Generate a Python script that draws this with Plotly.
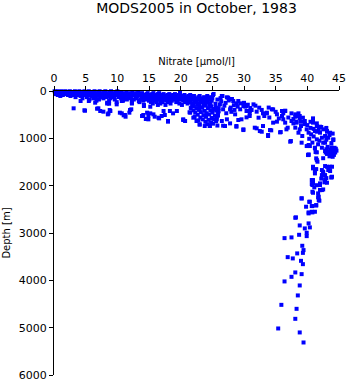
import plotly.graph_objects as go

# Nitrate [umol/l] and depth [m] samples, grouped by water-column layer
surface_nitrate = [
    0.1, 0.6, 1.2, 1.8, 2.5, 3.3, 4.0, 4.8, 5.5, 6.4, 7.2, 8.1, 9.0, 10.0,
    0.2, 0.9, 1.5, 2.2, 3.0, 3.8, 4.6, 5.3, 6.1, 7.0, 7.9, 8.8, 9.7, 10.6, 11.5, 12.4, 13.3,
    0.4, 1.1, 1.9, 2.7, 3.5, 4.3, 5.1, 6.0, 6.8, 7.6, 8.5, 9.4, 10.3, 11.2, 12.1, 13.0, 13.9, 14.8, 15.7, 16.6,
    0.3, 1.0, 1.7, 2.4, 3.3, 4.1, 5.0, 5.8, 6.6, 7.5, 8.4, 9.3, 10.1, 11.0, 11.9, 12.8, 13.7, 14.6, 15.5, 16.4, 17.3, 18.2, 19.1, 19.9,
    0.6, 1.4, 2.2, 3.0, 3.9, 4.7, 5.5, 6.3, 7.2, 8.0, 8.9, 9.8, 10.7, 11.6, 12.5, 13.4, 14.3, 15.2, 16.1, 17.0, 17.9, 18.8, 19.7, 20.6, 21.5,
    1.0, 2.6, 4.2, 5.9, 6.9, 7.7, 8.6, 9.5, 10.4, 11.3, 12.2, 13.1, 14.0, 14.9, 15.8, 16.7, 17.6, 18.5, 19.4, 20.3, 21.2, 22.1, 23.0, 24.2,
    3.4, 5.2, 6.5, 7.4, 8.3, 9.2, 10.2, 11.1, 12.0, 12.9, 13.8, 14.7, 15.6, 16.5, 17.4, 18.3, 19.2, 20.1, 21.0, 21.9, 22.8, 23.7, 24.6,
    4.5, 6.2, 7.8, 8.9, 10.6, 11.8, 13.0, 14.2, 15.1, 16.0, 16.9, 17.8, 18.7, 19.6, 20.5, 21.4, 22.3, 23.2, 24.1, 25.0,
    5.6, 7.1, 9.6, 11.5, 12.6, 13.6, 14.5, 15.4, 16.3, 17.2, 18.1, 19.0, 19.9, 20.8, 21.7, 22.6, 23.5, 24.4,
    6.7, 8.7, 10.9, 12.3, 14.1, 15.0, 15.9, 16.8, 17.7, 18.6, 19.5, 20.4, 21.3, 22.2, 23.1, 24.0, 24.9,
    9.9, 13.5, 15.3, 16.2, 17.1, 18.0, 19.3, 20.7, 21.6, 22.5, 23.4, 24.3,
    8.4, 12.3, 15.6, 16.8, 18.4, 19.8, 21.1, 22.0, 22.9, 23.8, 24.7,
    14.2, 16.4, 17.6, 20.2, 21.8, 22.7, 23.6, 24.5,
]
surface_depth = (
    [5] * 14 + [25] * 17 + [45] * 20 + [65] * 24 + [85] * 25 + [105] * 24
    + [130] * 23 + [155] * 20 + [180] * 18 + [205] * 17 + [235] * 12
    + [265] * 11 + [295] * 8
)

subsurface_nitrate = [
    22.1, 23.0, 23.9, 24.8, 25.5, 21.6, 22.5, 23.4, 24.3, 25.2, 26.0,
    22.0, 22.9, 23.8, 24.7, 25.6, 21.4, 22.3, 23.2, 24.1, 25.0, 25.9,
    22.7, 23.6, 24.5, 25.4, 22.2, 23.1, 24.0, 24.9, 25.7, 23.5, 24.4, 25.3, 22.8,
    23.9, 24.8, 25.6, 24.2, 25.1, 23.0, 24.6, 25.8,
    15.7, 16.5, 17.0, 18.0, 17.3, 18.3, 19.4, 20.4, 20.7, 22.5, 23.0, 23.8, 24.6, 21.5, 22.0,
    14.1, 14.5, 15.2, 15.9, 16.6, 18.0, 17.5, 18.8, 20.4, 15.2, 14.2, 14.9, 14.9, 14.7,
    3.1, 4.8, 6.8, 7.3, 7.8, 8.7, 8.9, 8.5, 10.4, 11.0, 11.3, 12.2, 11.9, 13.9, 12.3,
    9.9, 8.4, 6.5, 5.5, 4.2, 10.7, 13.4, 4.9, 7.0, 8.6, 8.8, 10.7, 11.2, 12.0,
    19.9, 25.2, 25.1, 26.6, 27.3, 28.1, 28.8, 29.4, 30.2, 26.5, 27.5, 28.3, 29.1, 29.9,
    30.4, 29.4, 28.6, 29.6, 29.9, 28.8, 27.0, 27.3, 26.5, 27.8, 26.7, 26.2, 25.7,
    28.8, 27.8, 26.7, 29.1, 30.4, 29.9,
    25.8, 26.4, 27.1, 25.5, 26.9, 27.6, 28.4, 26.0, 27.2, 28.0, 25.9, 26.3, 27.9,
    29.0, 28.5, 30.0, 30.6,
]
subsurface_depth = [
    320, 330, 310, 325, 340, 360, 370, 355, 365, 380, 360,
    410, 400, 420, 405, 415, 450, 460, 445, 470, 455, 470,
    500, 510, 495, 520, 550, 560, 545, 570, 555, 600, 610, 595, 620,
    650, 660, 640, 700, 690, 710, 740, 730,
    493, 564, 528, 634, 423, 423, 423, 598, 634, 634, 704, 740, 740, 458, 564,
    507, 592, 472, 543, 578, 648, 507, 472, 613, 332, 317, 528, 599, 458,
    366, 408, 374, 423, 437, 268, 423, 493, 458, 514, 543, 387, 458, 528, 247,
    282, 247, 247, 211, 211, 211, 211, 416, 366, 472, 402, 472, 507, 402,
    35, 63, 85, 106, 134, 169, 261, 261, 331, 106, 141, 211, 211, 317,
    423, 387, 493, 598, 810, 740, 740, 598, 634, 387, 387, 282, 598,
    754, 684, 733, 613, 557, 825,
    180, 220, 250, 270, 310, 200, 300, 430, 470, 440, 520, 150, 350,
    330, 400, 250, 290,
]

nutricline_nitrate = [
    31.5, 30.4, 30.9, 30.9, 32.4, 32.3, 33.6, 33.2, 34.4, 35.2, 34.6, 36.0, 36.5,
    36.0, 36.2, 36.5, 31.7, 32.5, 33.0, 33.8, 34.3, 35.8, 36.7, 36.9, 37.4,
    31.2, 30.9, 32.0, 33.0, 33.6, 34.6, 36.5, 36.2, 35.2, 32.0, 32.8, 34.1, 33.8,
    35.7, 31.0, 31.8, 32.8, 33.9, 35.0, 34.0, 35.5,
    38.1, 38.4, 38.8, 39.3, 39.6, 38.3, 37.5, 38.1, 38.8, 39.0, 39.9, 38.6, 39.2,
    40.2, 40.6, 40.9, 40.9, 41.5, 41.2, 42.0, 42.5, 43.1, 43.6, 44.1, 43.3, 42.3,
    41.5, 41.7, 42.5, 42.3, 42.8, 40.4, 39.9, 41.2, 42.8, 40.2, 41.3,
    37.5, 38.1, 38.6, 38.8, 38.3, 37.8, 37.3, 40.2, 40.9, 41.5, 42.0, 43.1, 44.1,
    40.0, 40.5, 41.0, 41.8, 42.2, 43.0, 43.5, 44.0, 42.8, 41.0, 40.3, 41.9, 43.0,
    43.8, 39.6, 39.0, 40.5, 37.0, 37.8,
    43.2, 43.8, 44.3, 43.0, 43.6, 44.2, 44.6, 43.3, 43.9, 44.4, 43.1, 43.7, 44.2,
    43.5, 44.0, 42.9, 44.5,
]
nutricline_depth = [
    282, 317, 423, 528, 352, 564, 458, 528, 387, 493, 669, 423, 423,
    528, 598, 669, 775, 846, 740, 951, 831, 867, 810, 775, 1057,
    402, 472, 437, 472, 472, 388, 416, 472, 648, 789, 860, 825, 930,
    874, 360, 310, 400, 350, 440, 560, 580,
    493, 528, 528, 564, 634, 669, 634, 775, 810, 740, 810, 881, 951,
    881, 916, 598, 669, 740, 846, 881, 810, 846, 881, 1021, 987, 987,
    1021, 1127, 1092, 1198, 1092, 1163, 1163, 1198, 1268, 1339, 1290,
    472, 543, 472, 578, 648, 684, 1071, 1353, 578, 684, 754, 860, 1036,
    720, 780, 800, 820, 760, 780, 930, 900, 950, 960, 1010, 1050, 1030,
    1100, 700, 650, 650, 560, 590,
    1180, 1190, 1200, 1230, 1240, 1250, 1260, 1280, 1290, 1300, 1330, 1340, 1350,
    1380, 1390, 1300, 1220,
]

deep_nitrate = [
    41.5, 42.5, 43.1, 43.9, 42.3, 40.9, 41.2, 42.8, 43.9, 40.9, 42.0, 40.9, 42.3,
    41.7, 41.7, 39.1, 41.4, 40.9, 41.2, 42.8, 43.6, 43.3, 42.5, 42.2, 43.0, 43.8,
    43.1, 42.0, 40.7, 40.8, 41.5, 40.9, 42.0, 42.5, 41.9, 40.4, 40.8, 41.4, 39.8,
    40.7, 40.2, 41.2, 38.1, 40.1, 41.2, 39.1, 40.2, 40.8, 41.5, 41.6, 40.9, 41.4,
    42.5, 43.6, 43.8, 42.3, 40.8, 42.8, 42.7, 40.7, 41.1, 40.8, 42.0, 41.8, 41.8, 41.5,
    39.1, 40.3, 40.7, 41.4, 40.2, 40.8, 38.2, 38.8, 40.2, 39.6, 40.4, 39.9, 39.9,
    38.7, 36.4, 37.5, 39.2, 39.4, 39.3, 36.9, 37.7, 38.4, 39.0, 39.3, 38.1, 39.1,
    37.5, 36.4, 38.8, 38.5, 35.9, 38.3, 38.1, 35.4, 38.8, 39.4,
]
deep_depth = [
    1459, 1420, 1600, 1600, 1670, 1635, 1741, 1776, 1811, 1882, 1987, 1950, 2093,
    2163, 2247, 2269, 1423, 1600, 1691, 1586, 1600, 1670, 1741, 1850, 1840, 1825,
    1938, 1952, 1882, 1987, 1990, 2150, 2093, 2080, 2318, 2340, 2431, 2420, 2445,
    2551, 2565, 2551, 2678, 1353, 1212, 1092, 1141, 1090, 1296, 1494, 1621, 1650,
    1706, 1691, 1825, 1776, 1882, 1867, 1930, 1966, 2036, 2129, 2093, 2234, 2304, 860,
    2268, 2340, 2431, 2410, 2586, 2565, 2670, 2840, 2797, 2903, 2882, 2995, 3066,
    3038, 3108, 3093, 3270, 3361, 3420, 3510, 3537, 3431, 3588, 3658, 3833, 3869,
    3926, 4023, 4108, 4319, 4518, 4602, 4813, 5017, 5101, 5313,
]

nitrate_ticks = [0, 5, 10, 15, 20, 25, 30, 35, 40, 45]
depth_ticks = [0, 1000, 2000, 3000, 4000, 5000, 6000]

fig = go.Figure()
for xs, ys in [
    (surface_nitrate, surface_depth),
    (subsurface_nitrate, subsurface_depth),
    (nutricline_nitrate, nutricline_depth),
    (deep_nitrate, deep_depth),
]:
    fig.add_trace(go.Scatter(
        x=xs, y=ys, mode="markers", cliponaxis=False, showlegend=False,
        marker=dict(color="#0000ff", size=4, symbol="square", line=dict(width=0)),
    ))

axis_common = dict(
    ticks="outside", ticklen=4, tickwidth=1, tickcolor="black",
    showline=True, linecolor="black", linewidth=1,
    showgrid=False, zeroline=False, tickfont=dict(size=11),
    automargin=False,
)

fig.update_layout(
    width=348, height=384,
    margin=dict(l=54, r=9, t=91, b=9),
    paper_bgcolor="white", plot_bgcolor="white",
    font=dict(family="DejaVu Sans", color="black"),
    title=dict(
        text="MODS2005 in October, 1983", font=dict(size=14),
        x=0.5, xref="paper", xanchor="center",
        y=1 - 8 / 384, yref="container", yanchor="middle",
    ),
    xaxis=dict(
        side="top", range=[0, 45], tickvals=nitrate_ticks,
        title=dict(text="Nitrate [µmol/l]", font=dict(size=10), standoff=4),
        **axis_common,
    ),
    yaxis=dict(
        range=[6000, 0], tickvals=depth_ticks,
        title=dict(text="Depth [m]", font=dict(size=10), standoff=6),
        **axis_common,
    ),
)

fig.write_html("out.html")
